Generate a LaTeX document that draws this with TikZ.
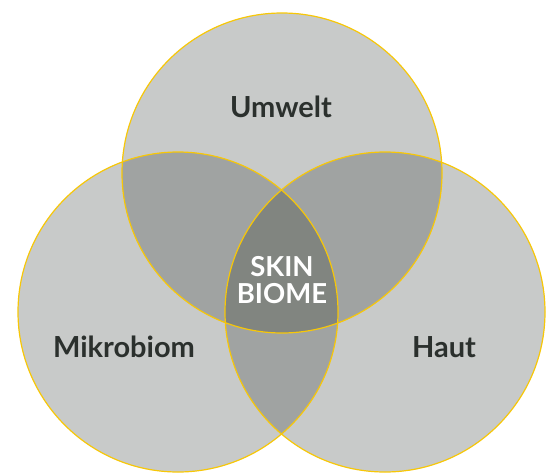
\documentclass[tikz,border=0pt]{standalone}
\usepackage{fontspec}
\setmainfont{Lato}
\definecolor{ringgold}{HTML}{F7C708}
\definecolor{venlight}{HTML}{C8CAC9}
\definecolor{venmid}{HTML}{A0A3A2}
\definecolor{vendark}{HTML}{818580}
\definecolor{labelink}{HTML}{2B302D}
\begin{document}
\begin{tikzpicture}[x=1pt, y=-1pt,
  ring/.style={draw=ringgold, line width=1.2pt},
  setlabel/.style={font=\fontsize{29}{31}\selectfont\bfseries, text=labelink, anchor=base, inner sep=0pt},
  corelabel/.style={font=\fontsize{27.5}{27}\selectfont\bfseries, text=white, align=center, inner sep=0pt}]
\useasboundingbox (0,0) rectangle (553,473);
% circle centres: Umwelt, Mikrobiom, Haut
\coordinate (cU) at (282,173);
\coordinate (cM) at (178,312);
\coordinate (cH) at (385,312);
\foreach \c in {cU,cM,cH}
  \fill[venlight] (\c) circle (160pt);
% two-way overlaps
\begin{scope}
  \clip (cU) circle (160pt);
  \fill[venmid] (cM) circle (160pt);
  \fill[venmid] (cH) circle (160pt);
\end{scope}
\begin{scope}
  \clip (cM) circle (160pt);
  \fill[venmid] (cH) circle (160pt);
\end{scope}
% centre: all three
\begin{scope}
  \clip (cU) circle (160pt);
  \clip (cM) circle (160pt);
  \fill[vendark] (cH) circle (160pt);
\end{scope}
\foreach \c in {cU,cM,cH}
  \draw[ring] (\c) circle (160pt);
\node[setlabel] (umwelt) at (281,118) {Umwelt};
\node[setlabel] (mikro) at (124,357) {Mikrobiom};
\node[setlabel] (haut) at (444,357) {Haut};
\node[corelabel] (skin) at (282,280) {SKIN\\BIOME};
\end{tikzpicture}
\end{document}
